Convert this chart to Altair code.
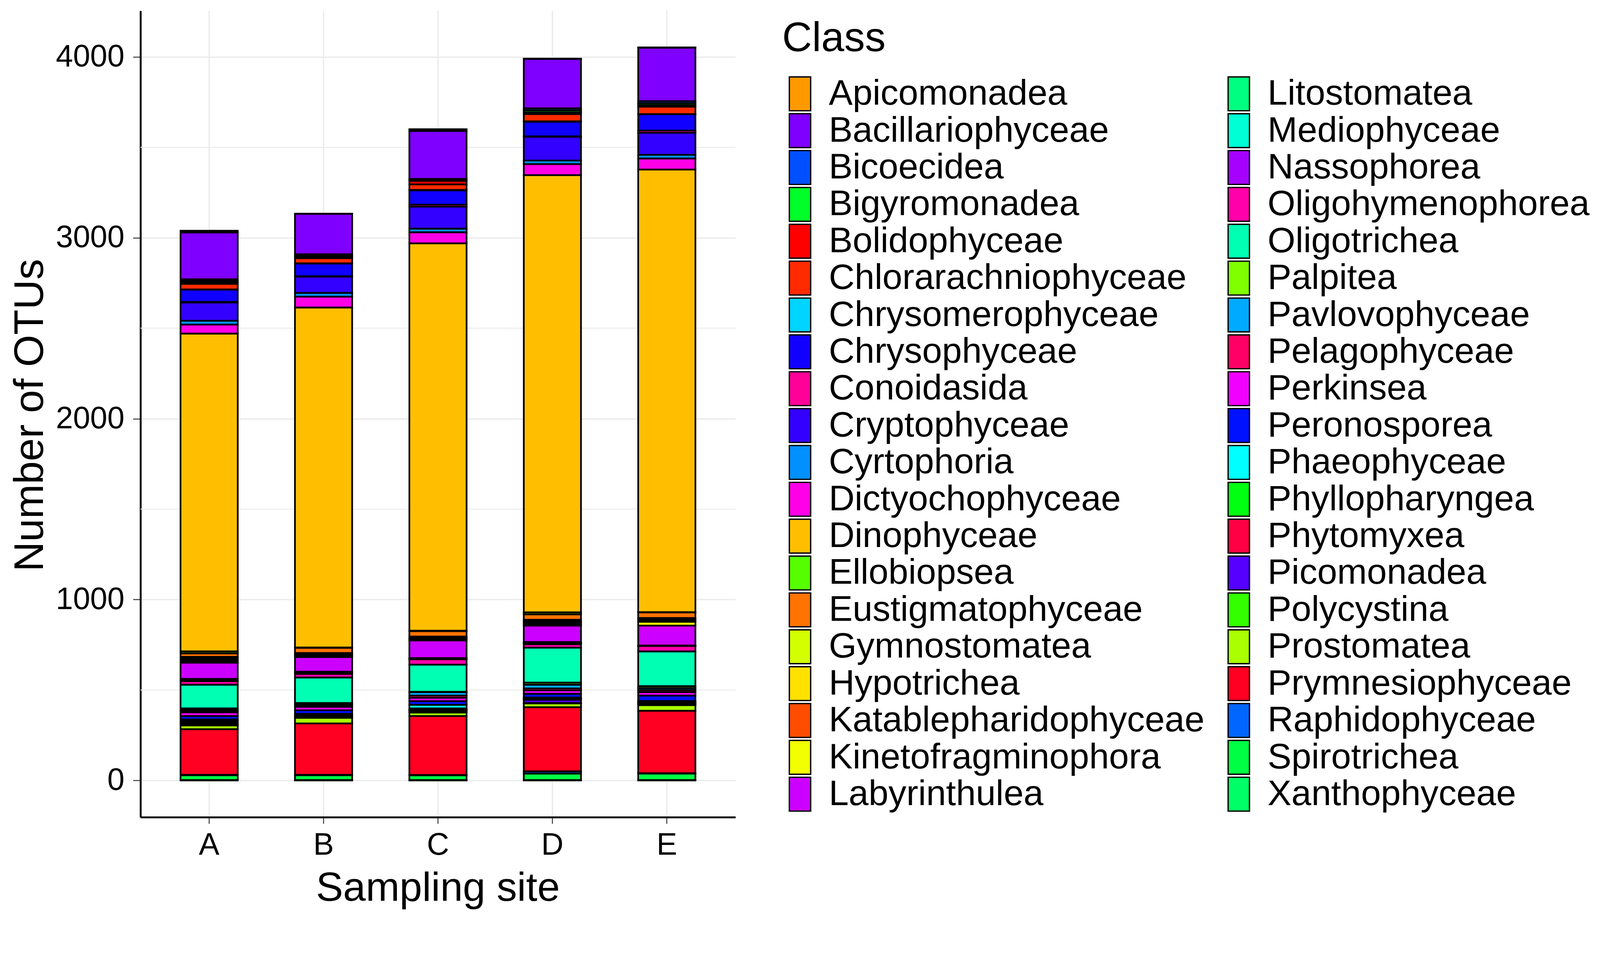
import altair as alt
import pandas as pd

sites = ["A", "B", "C", "D", "E"]

classes = [
    "Apicomonadea", "Bacillariophyceae", "Bicoecidea", "Bigyromonadea", "Bolidophyceae",
    "Chlorarachniophyceae", "Chrysomerophyceae", "Chrysophyceae", "Conoidasida", "Cryptophyceae",
    "Cyrtophoria", "Dictyochophyceae", "Dinophyceae", "Ellobiopsea", "Eustigmatophyceae",
    "Gymnostomatea", "Hypotrichea", "Katablepharidophyceae", "Kinetofragminophora", "Labyrinthulea",
    "Litostomatea", "Mediophyceae", "Nassophorea", "Oligohymenophorea", "Oligotrichea",
    "Palpitea", "Pavlovophyceae", "Pelagophyceae", "Perkinsea", "Peronosporea",
    "Phaeophyceae", "Phyllopharyngea", "Phytomyxea", "Picomonadea", "Polycystina",
    "Prostomatea", "Prymnesiophyceae", "Raphidophyceae", "Spirotrichea", "Xanthophyceae",
]

colors = [
    "#FF9900", "#7F00FF", "#0050FF", "#00FF28", "#FF0000",
    "#FF2A00", "#00D5FF", "#0F00FF", "#FF0099", "#3300FF",
    "#0090FF", "#FF00E6", "#FFBF00", "#55FF00", "#FF7300",
    "#D4FF00", "#FFE100", "#FF4D00", "#F2FF00", "#CC00FF",
    "#00FF80", "#00FFD5", "#A600FF", "#FF00AA", "#00FFB3",
    "#80FF00", "#00AAFF", "#FF0066", "#F200FF", "#0011FF",
    "#00FFFF", "#00FF11", "#FF0044", "#5500FF", "#33FF00",
    "#AAFF00", "#FF0022", "#0066FF", "#00FF44", "#00FF66",
]

# OTU counts per class (alphabetical order) for each sampling site
site_A = [10, 259, 9, 8, 8, 31, 1, 68, 3, 101, 21, 50, 1757, 11, 19, 8, 8, 8, 8, 90,
          4, 4, 4, 20, 131, 7, 8, 7, 20, 19, 7, 6, 7, 6, 7, 21, 252, 2, 27, 2]
site_B = [1, 224, 7, 7, 7, 29, 1, 70, 2, 90, 21, 60, 1879, 2, 29, 6, 5, 6, 5, 81,
          4, 4, 4, 20, 141, 7, 7, 7, 19, 20, 4, 4, 5, 4, 5, 31, 284, 2, 27, 2]
site_C = [10, 265, 6, 5, 19, 31, 2, 79, 11, 122, 20, 61, 2141, 3, 29, 6, 5, 6, 5, 98,
          2, 2, 2, 30, 150, 2, 19, 12, 19, 20, 20, 6, 6, 5, 6, 19, 326, 2, 26, 2]
site_D = [2, 273, 11, 11, 10, 40, 2, 81, 2, 131, 20, 61, 2417, 11, 30, 8, 8, 8, 8, 91,
          4, 4, 4, 19, 193, 12, 20, 11, 19, 21, 4, 4, 4, 18, 2, 21, 355, 12, 36, 2]
site_E = [2, 295, 11, 10, 10, 41, 1, 90, 12, 122, 20, 61, 2447, 1, 31, 7, 7, 7, 21, 110,
          1, 1, 1, 30, 192, 11, 11, 11, 19, 30, 5, 4, 5, 4, 5, 31, 345, 2, 36, 2]

y_ticks = [0, 1000, 2000, 3000, 4000]
y_minor = [500, 1500, 2500, 3500]

site_values = {"A": site_A, "B": site_B, "C": site_C, "D": site_D, "E": site_E}
rows = []
for s in sites:
    for i, (c, v) in enumerate(zip(classes, site_values[s])):
        rows.append({"site": s, "cls": c, "value": v, "idx": i})
df = pd.DataFrame(rows)

FONT = "Liberation Sans"
W, H = 1581, 2144

y_scale = alt.Scale(domain=[-203, 4255], nice=False, zero=False)

minor = alt.Chart(pd.DataFrame({"value": y_minor})).mark_rule(
    color="#EBEBEB", strokeWidth=2.5
).encode(y=alt.Y("value:Q", scale=y_scale))

bars = alt.Chart(df).mark_bar(stroke="black", strokeWidth=4.5, opacity=1).encode(
    x=alt.X(
        "site:N",
        sort=sites,
        scale=alt.Scale(paddingInner=0.5, paddingOuter=0.35),
        axis=alt.Axis(
            title="Sampling site", labelAngle=0, labelFontSize=82, labelPadding=17,
            labelColor="black", labelFont=FONT, labelLimit=1000,
            tickSize=17, tickWidth=2.5, tickColor="#333333",
            domainColor="black", domainWidth=5,
            grid=True, gridColor="#EBEBEB", gridWidth=3.5,
            titleFontSize=108, titleFont=FONT, titleFontWeight="normal", titleColor="black",
            titleX=790, titleY=222, titleBaseline="alphabetic", titleAlign="center",
            titleLimit=3000,
        ),
    ),
    y=alt.Y(
        "value:Q",
        stack="zero",
        scale=y_scale,
        axis=alt.Axis(
            title="Number of OTUs", values=y_ticks, format="d",
            labelFontSize=82, labelPadding=23, labelColor="black", labelFont=FONT,
            labelLimit=1000,
            tickSize=20, tickWidth=2.5, tickColor="#333333",
            domainColor="black", domainWidth=5,
            grid=True, gridColor="#EBEBEB", gridWidth=3.5,
            titleFontSize=110, titleFont=FONT, titleFontWeight="normal", titleColor="black",
            titleAngle=270, titleX=-260, titleY=1075, titleBaseline="alphabetic",
            titleAlign="center", titleLimit=3000,
        ),
    ),
    color=alt.Color(
        "cls:N",
        scale=alt.Scale(domain=classes, range=colors),
        legend=alt.Legend(
            title="Class", orient="none", legendX=1705, legendY=20,
            columns=2, columnPadding=43, rowPadding=0, clipHeight=97.7,
            symbolType="M-0.63,-1L0.63,-1L0.63,1L-0.63,1Z", symbolSize=8100,
            symbolStrokeColor="black", symbolStrokeWidth=3.5, symbolOpacity=1,
            symbolLimit=100,
            labelFontSize=95, labelFont=FONT, labelColor="black", labelOffset=29,
            labelLimit=3000,
            titleFontSize=110, titleFont=FONT, titleFontWeight="normal", titleColor="black",
            titlePadding=42, titleLimit=3000, padding=0,
        ),
    ),
    order=alt.Order("idx:Q", sort="descending"),
)

chart = alt.layer(minor, bars).properties(
    width=W, height=H,
    autosize=alt.AutoSizeParams(type="none"),
    padding={"left": 365, "top": -26, "right": 2289, "bottom": 312},
    background="white",
).configure_view(stroke=None)

chart.save("out.html", embed_options={"renderer": "svg", "actions": False})
